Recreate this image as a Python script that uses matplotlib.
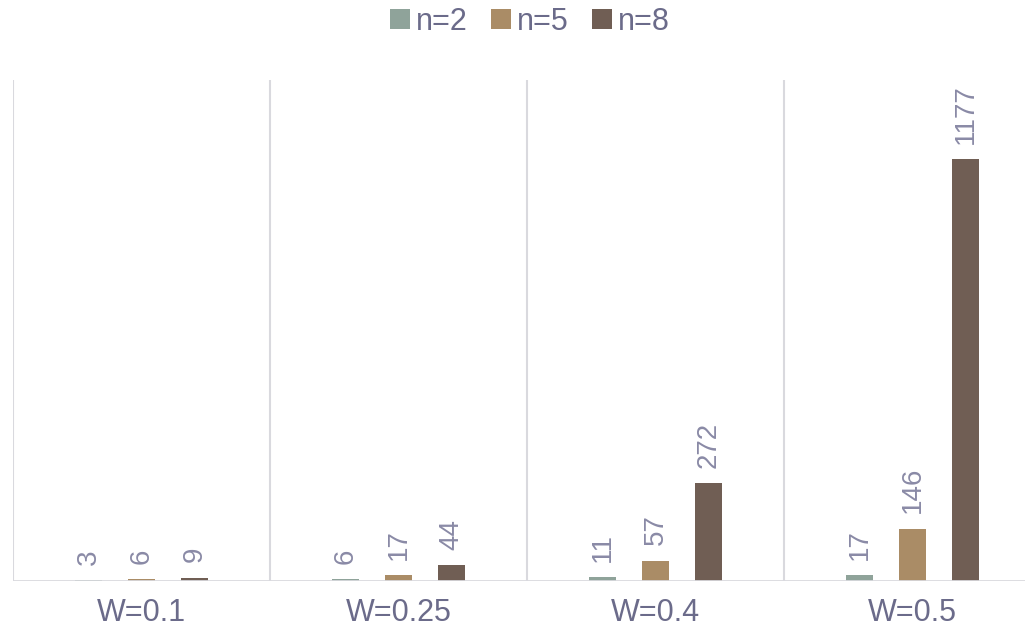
import matplotlib
matplotlib.use("Agg")
import matplotlib.pyplot as plt
import numpy as np

categories = ["W=0.1", "W=0.25", "W=0.4", "W=0.5"]
series_names = ["n=2", "n=5", "n=8"]
n2 = [3, 6, 11, 17]
n5 = [6, 17, 57, 146]
n8 = [9, 44, 272, 1177]
colors = ["#8FA39A", "#AA8C66", "#705E54"]
text_color = "#6B6B8A"
label_color = "#8A8AA6"
line_color = "#D9D9DE"

plt.rcParams['font.family'] = ['Liberation Sans', 'DejaVu Sans']

fig = plt.figure(figsize=(10.25, 6.28), dpi=100)
ax = fig.add_axes([13/1025, 1 - 581/628, (1041-13)/1025, (581-80)/628])

x = np.arange(len(categories))
width = 0.105
offset = 0.206
series = [n2, n5, n8]
handles = []
for i, (vals, name, c) in enumerate(zip(series, series_names, colors)):
    pos = x + (i - 1) * offset
    b = ax.bar(pos, vals, width, color=c, label=name, zorder=3)
    handles.append(b)
    for p, v in zip(pos, vals):
        ax.annotate(str(v), (p, v), xytext=(0, 11), textcoords="offset points",
                    rotation=90, ha="center", va="bottom", fontsize=20,
                    color=label_color)

ax.set_xlim(-0.5, 3.5)
ax.set_ylim(0, 1397)
for sep in [-0.5, 0.5, 1.5, 2.5, 3.5]:
    ax.axvline(sep, color=line_color, lw=1.5, zorder=1)
ax.axhline(0, color=line_color, lw=2, zorder=4)
for s in ax.spines.values():
    s.set_visible(False)
ax.set_yticks([])
ax.set_xticks(x)
ax.set_xticklabels(categories, fontsize=22, color=text_color)
ax.tick_params(axis="x", length=0, pad=12)

fig.legend(handles=handles, labels=series_names, loc="center", bbox_to_anchor=(0.517, 1 - 22/628),
           ncol=3, frameon=False, fontsize=22, handlelength=0.65, handleheight=0.65,
           handletextpad=0.2, columnspacing=0.75, labelcolor=text_color)

fig.savefig("out.png", dpi=100)
